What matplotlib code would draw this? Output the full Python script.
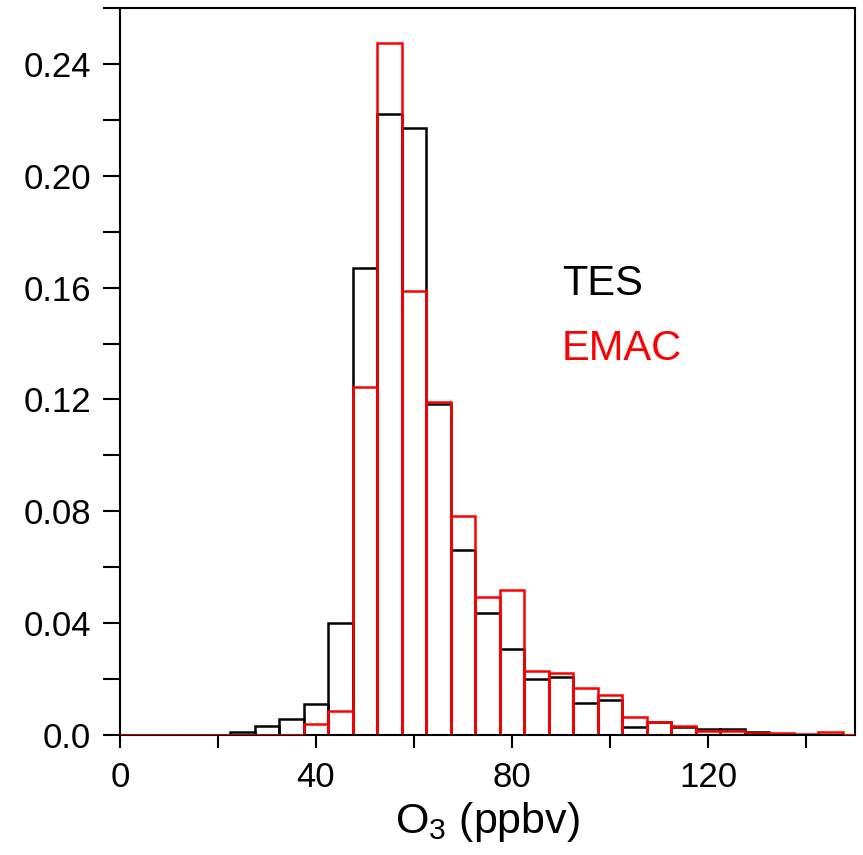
import numpy as np
import matplotlib
matplotlib.use('Agg')
import matplotlib.pyplot as plt
from matplotlib.ticker import MultipleLocator

plt.rcParams['font.family'] = ['Liberation Sans', 'DejaVu Sans']
plt.rcParams['mathtext.default'] = 'regular'

# bin centres (ppbv), 5 ppbv wide bins
bin_centres = np.arange(0, 155, 5)

# relative frequency, TES retrievals
tes_freq = [0, 0, 0, 0, 0, 0.001, 0.0033, 0.0056, 0.011, 0.040,
            0.167, 0.222, 0.217, 0.1185, 0.066, 0.0438, 0.0308, 0.0202, 0.0208, 0.0114,
            0.0124, 0.0027, 0.0045, 0.0028, 0.0022, 0.002, 0.0009, 0.0004, 0.0001, 0.0,
            0.0]

# relative frequency, EMAC model
emac_freq = [0, 0, 0, 0, 0, 0, 0, 0, 0.0039, 0.0085,
             0.1244, 0.2476, 0.1588, 0.1192, 0.0783, 0.0494, 0.0519, 0.0230, 0.0223, 0.0169,
             0.0143, 0.0064, 0.0045, 0.0032, 0.0015, 0.0013, 0.0008, 0.0006, 0.0002, 0.0010,
             0.0]

ytick_vals = [0.0, 0.04, 0.08, 0.12, 0.16, 0.20, 0.24]
ytick_labels = ['0.0', '0.04', '0.08', '0.12', '0.16', '0.20', '0.24']

fig = plt.figure(figsize=(8.63, 8.55), dpi=100)
ax = fig.add_axes([120/863, 1 - 735/855, 735/863, 727/855])

ax.bar(bin_centres, tes_freq, width=5, fill=False, edgecolor='black', linewidth=1.8, zorder=1)
red_bars = ax.bar(bin_centres, emac_freq, width=5, fill=False, edgecolor='red', linewidth=1.8, zorder=1.5)
# empty EMAC bins show as a red line over the axis
for p in red_bars:
    if p.get_height() == 0:
        p.set_zorder(3)

ax.set_xlim(0, 150)
ax.set_ylim(0, 0.26)

ax.xaxis.set_major_locator(MultipleLocator(40))
ax.xaxis.set_minor_locator(MultipleLocator(20))
ax.yaxis.set_minor_locator(MultipleLocator(0.02))
ax.set_yticks(ytick_vals)
ax.set_yticklabels(ytick_labels)

ax.tick_params(axis='x', which='both', direction='out', length=9, width=1.5,
               labelsize=25, pad=10)
ax.tick_params(axis='y', which='both', direction='out', length=12, width=1.5,
               labelsize=25, pad=9)
for s in ax.spines.values():
    s.set_linewidth(1.5)

ax.set_xlabel('O$_3$ (ppbv)', fontsize=31, labelpad=4)

ax.text(0.601, 0.605, 'TES', color='black', fontsize=30, va='baseline', transform=ax.transAxes)
ax.text(0.601, 0.516, 'EMAC', color='red', fontsize=30, va='baseline', transform=ax.transAxes)

fig.savefig('out.png', dpi=100)
